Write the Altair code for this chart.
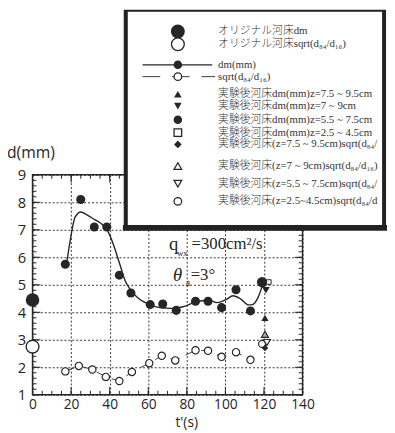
import altair as alt
import pandas as pd

# ---------------- data ----------------
X_LABELS = [0, 20, 40, 60, 80, 100, 120, 140]
Y_LABELS = [1, 2, 3, 4, 5, 6, 7, 8, 9]
X_MINOR = list(range(0, 141, 5))
Y_MINOR = [round(1 + 0.2 * i, 1) for i in range(41)]

dm_t = [17, 25, 32, 38.5, 45, 51, 61, 67.5, 74.5, 84.5, 91, 98, 105.5, 113]
dm_v = [5.75, 8.1, 7.1, 7.1, 5.35, 4.7, 4.28, 4.3, 4.07, 4.4, 4.4, 4.17, 4.82, 4.05]

fit_t = [17.5, 19.5, 22, 25, 28, 32, 36, 39, 42, 45, 48, 51, 55, 60, 66, 72, 78,
         84, 91, 96, 100, 104, 108, 112, 114, 117, 119.5]
fit_v = [5.7, 6.6, 7.45, 7.65, 7.55, 7.38, 7.2, 6.95, 6.45, 5.8, 5.15, 4.8, 4.5, 4.3,
         4.17, 4.14, 4.2, 4.36, 4.44, 4.35, 4.45, 4.6, 4.48, 4.27, 4.28, 4.55, 5.05]

sq_t = [17, 24, 31, 38, 45, 51.5, 60.5, 67, 74, 84.5, 91, 98, 105.5, 113]
sq_v = [1.85, 2.05, 1.92, 1.65, 1.5, 1.83, 2.15, 2.42, 2.25, 2.62, 2.6, 2.38, 2.55, 2.27]

orig_dm_t, orig_dm_v = [0], [4.45]
orig_sq_t, orig_sq_v = [0], [2.75]

ex_dm_a_t, ex_dm_a_v = [120.5], [3.8]     # z=7.5~9.5 dm  (filled triangle up)
ex_dm_b_t, ex_dm_b_v = [121], [4.8]       # z=7~9 dm      (filled triangle down)
ex_dm_c_t, ex_dm_c_v = [119], [5.1]       # z=5.5~7.5 dm  (filled circle)
ex_dm_d_t, ex_dm_d_v = [122.5], [5.1]     # z=2.5~4.5 dm  (open square)
ex_sq_a_t, ex_sq_a_v = [120.5], [2.7]     # diamond
ex_sq_b_t, ex_sq_b_v = [120.5], [3.2]     # open triangle up
ex_sq_c_t, ex_sq_c_v = [121.5], [2.9]     # open triangle down
ex_sq_d_t, ex_sq_d_v = [119], [2.85]      # open circle

LEGEND_LABELS = [
    "オリジナル河床dm",
    "オリジナル河床sqrt(d₈₄/d₁₆)",
    "dm(mm)",
    "sqrt(d₈₄/d₁₆)",
    "実験後河床dm(mm)z=7.5 ~ 9.5cm",
    "実験後河床dm(mm)z=7 ~ 9cm",
    "実験後河床dm(mm)z=5.5 ~ 7.5cm",
    "実験後河床dm(mm)z=2.5 ~ 4.5cm",
    "実験後河床(z=7.5 ~ 9.5cm)sqrt(d₈₄/d₁₆)",
    "実験後河床(z=7 ~ 9cm)sqrt(d₈₄/d₁₆)",
    "実験後河床(z=5.5 ~ 7.5cm)sqrt(d₈₄/d₁₆)",
    "実験後河床(z=2.5~4.5cm)sqrt(d₈₄/d₁₆)",
]

# ---------------- chart ----------------
W, H = 275, 224
INK = "#262626"
xs = alt.Scale(domain=[0, 140], nice=False, zero=False)
ys = alt.Scale(domain=[1, 9], nice=False, zero=False)

ax_x = alt.Axis(values=X_LABELS, title=None, ticks=False, domain=False, grid=True,
                gridDash=[2, 2], gridColor="#333", gridWidth=1, labelFont="Open Sans",
                labelFontSize=14, labelColor=INK, labelPadding=3, labelFlush=False,
                labelOverlap=False)
ax_y = alt.Axis(values=Y_LABELS, title=None, ticks=False, domain=False, grid=True,
                gridDash=[2, 2], gridColor="#333", gridWidth=1, labelFont="Open Sans",
                labelFontSize=15, labelColor=INK, labelPadding=7, labelFlush=False,
                labelOverlap=False)

XE = alt.X("t:Q", scale=xs, axis=ax_x, title=None)
YE = alt.Y("d:Q", scale=ys, axis=ax_y, title=None)


def df(t, v):
    return pd.DataFrame({"t": t, "d": v})


layers = []

# fitted curve
layers.append(alt.Chart(df(fit_t, fit_v)).mark_line(
    interpolate="monotone", color=INK, strokeWidth=1.4).encode(x=XE, y=YE))

# minor / major ticks (inward)
xt = pd.DataFrame({"t": X_MINOR})
xtm = pd.DataFrame({"t": X_LABELS})
yt = pd.DataFrame({"d": Y_MINOR})
ytm = pd.DataFrame({"d": Y_LABELS})
for data, ln in ((xt, 4), (xtm, 8)):
    layers.append(alt.Chart(data).mark_rule(color=INK, strokeWidth=1).encode(
        x=XE, y=alt.value(H), y2=alt.value(H - ln)))
    layers.append(alt.Chart(data).mark_rule(color=INK, strokeWidth=1).encode(
        x=XE, y=alt.value(0), y2=alt.value(ln)))
for data, ln in ((yt, 4), (ytm, 8)):
    layers.append(alt.Chart(data).mark_rule(color=INK, strokeWidth=1).encode(
        y=YE, x=alt.value(0), x2=alt.value(ln)))
    layers.append(alt.Chart(data).mark_rule(color=INK, strokeWidth=1).encode(
        y=YE, x=alt.value(W), x2=alt.value(W - ln)))

# sqrt dashed connecting line
layers.append(alt.Chart(df(sq_t, sq_v)).mark_line(
    color=INK, strokeWidth=0.9, strokeDash=[10, 7]).encode(x=XE, y=YE))


def pts(t, v, shape, size, filled=True, fill=None, sw=1.2):
    if filled:
        m = alt.Chart(df(t, v)).mark_point(shape=shape, size=size, filled=True,
                                           color=INK, opacity=1, strokeWidth=0)
    else:
        m = alt.Chart(df(t, v)).mark_point(shape=shape, size=size, filled=True,
                                           fill=fill or "white", stroke=INK,
                                           strokeWidth=sw, opacity=1)
    return m.encode(x=XE, y=YE)


layers += [
    pts(dm_t, dm_v, "circle", 85),
    pts(sq_t, sq_v, "circle", 55, filled=False),
    pts(orig_dm_t, orig_dm_v, "circle", 190),
    pts(orig_sq_t, orig_sq_v, "circle", 170, filled=False, sw=1.4),
    pts(ex_sq_b_t, ex_sq_b_v, "triangle-up", 50, filled=False, fill="#aaa"),
    pts(ex_sq_d_t, ex_sq_d_v, "circle", 50, filled=False),
    pts(ex_sq_c_t, ex_sq_c_v, "triangle-down", 50, filled=False),
    pts(ex_sq_a_t, ex_sq_a_v, "diamond", 45),
    pts(ex_dm_a_t, ex_dm_a_v, "triangle-up", 55),
    pts(ex_dm_c_t, ex_dm_c_v, "circle", 110),
    pts(ex_dm_b_t, ex_dm_b_v, "triangle-down", 60),
    pts(ex_dm_d_t, ex_dm_d_v, "square", 22, filled=False, sw=1),
]

one = pd.DataFrame({"k": [0]})
SERIF = "Liberation Serif, Noto Sans CJK JP"


def txt(s, x, y, size, font=SERIF, align="left", style="normal", baseline="middle"):
    return alt.Chart(pd.DataFrame({"s": [s]})).mark_text(
        align=align, baseline=baseline, fontSize=size, font=font, color=INK,
        fontStyle=style).encode(x=alt.value(x), y=alt.value(y), text="s:N")


# annotations
layers += [
    txt("q", 139, 71, 19),
    txt("wx", 147, 80, 9),
    txt("=300cm²/s", 162, 71, 17),
    txt("θ", 143, 102, 19, style="italic"),
    txt("a", 156, 110, 10),
    txt("=3°", 161, 102, 17),
    txt("d(mm)", -26, -22, 16, font="Open Sans"),
    txt("t'(s)", 157, 253, 14, font="Open Sans", align="center"),
]

# legend box
LX0, LX1, LY0, LY1 = 94, 359, -167, 53
layers.append(alt.Chart(one).mark_rect(fill="white", stroke="#222", strokeWidth=2).encode(
    x=alt.value(LX0), x2=alt.value(LX1), y=alt.value(LY0), y2=alt.value(LY1)))
layers.append(alt.Chart(one).mark_rule(color="#222", strokeWidth=6).encode(
    x=alt.value(LX0 - 2), x2=alt.value(LX1 + 2), y=alt.value(LY1 + 1)))
layers.append(alt.Chart(one).mark_rule(color="#222", strokeWidth=4).encode(
    x=alt.value(LX0 + 1), y=alt.value(LY0), y2=alt.value(LY1)))
layers.append(alt.Chart(one).mark_rule(color="#222", strokeWidth=4).encode(
    x=alt.value(LX1 - 1), y=alt.value(LY0), y2=alt.value(LY1)))

MX, TX = 148, 189
ROWS = [-146, -133, -112, -100, -82, -70, -56, -43, -31, -9, 9, 27]
LEG_MARK = [
    ("circle", 200, True), ("circle", 170, False),
    ("circle", 75, True), ("circle", 60, False),
    ("triangle-up", 60, True), ("triangle-down", 60, True),
    ("circle", 75, True), ("square", 60, False),
    ("diamond", 60, True), ("triangle-up", 60, False),
    ("triangle-down", 60, False), ("circle", 60, False),
]

# legend line samples
layers.append(alt.Chart(one).mark_rule(color=INK, strokeWidth=1.3).encode(
    x=alt.value(112), x2=alt.value(183), y=alt.value(ROWS[2])))
layers.append(alt.Chart(one).mark_rule(color=INK, strokeWidth=0.9, strokeDash=[18, 12]).encode(
    x=alt.value(112), x2=alt.value(186), y=alt.value(ROWS[3])))

for (shape, size, filled), yy, lab in zip(LEG_MARK, ROWS, LEGEND_LABELS):
    if filled:
        mk = alt.Chart(one).mark_point(shape=shape, size=size, filled=True, color=INK,
                                       opacity=1, strokeWidth=0)
    else:
        mk = alt.Chart(one).mark_point(shape=shape, size=size, filled=True, fill="white",
                                       stroke=INK, strokeWidth=1.3, opacity=1)
    layers.append(mk.encode(x=alt.value(MX), y=alt.value(yy)))
    layers.append(alt.Chart(pd.DataFrame({"s": [lab]})).mark_text(
        align="left", baseline="middle", fontSize=11, font=SERIF, color="#333",
        fontWeight=300, limit=LX1 - TX - 4, ellipsis="\u200b").encode(
        x=alt.value(TX), y=alt.value(yy), text="s:N"))

chart = alt.layer(*layers).properties(
    width=W, height=H,
    autosize=alt.AutoSizeParams(type="none"),
    padding={"left": 25, "top": 166, "right": 86, "bottom": 33},
    background="white",
).configure_view(stroke=INK, strokeWidth=1.5)

chart.save("out.html", embed_options={"renderer": "svg", "actions": False})
